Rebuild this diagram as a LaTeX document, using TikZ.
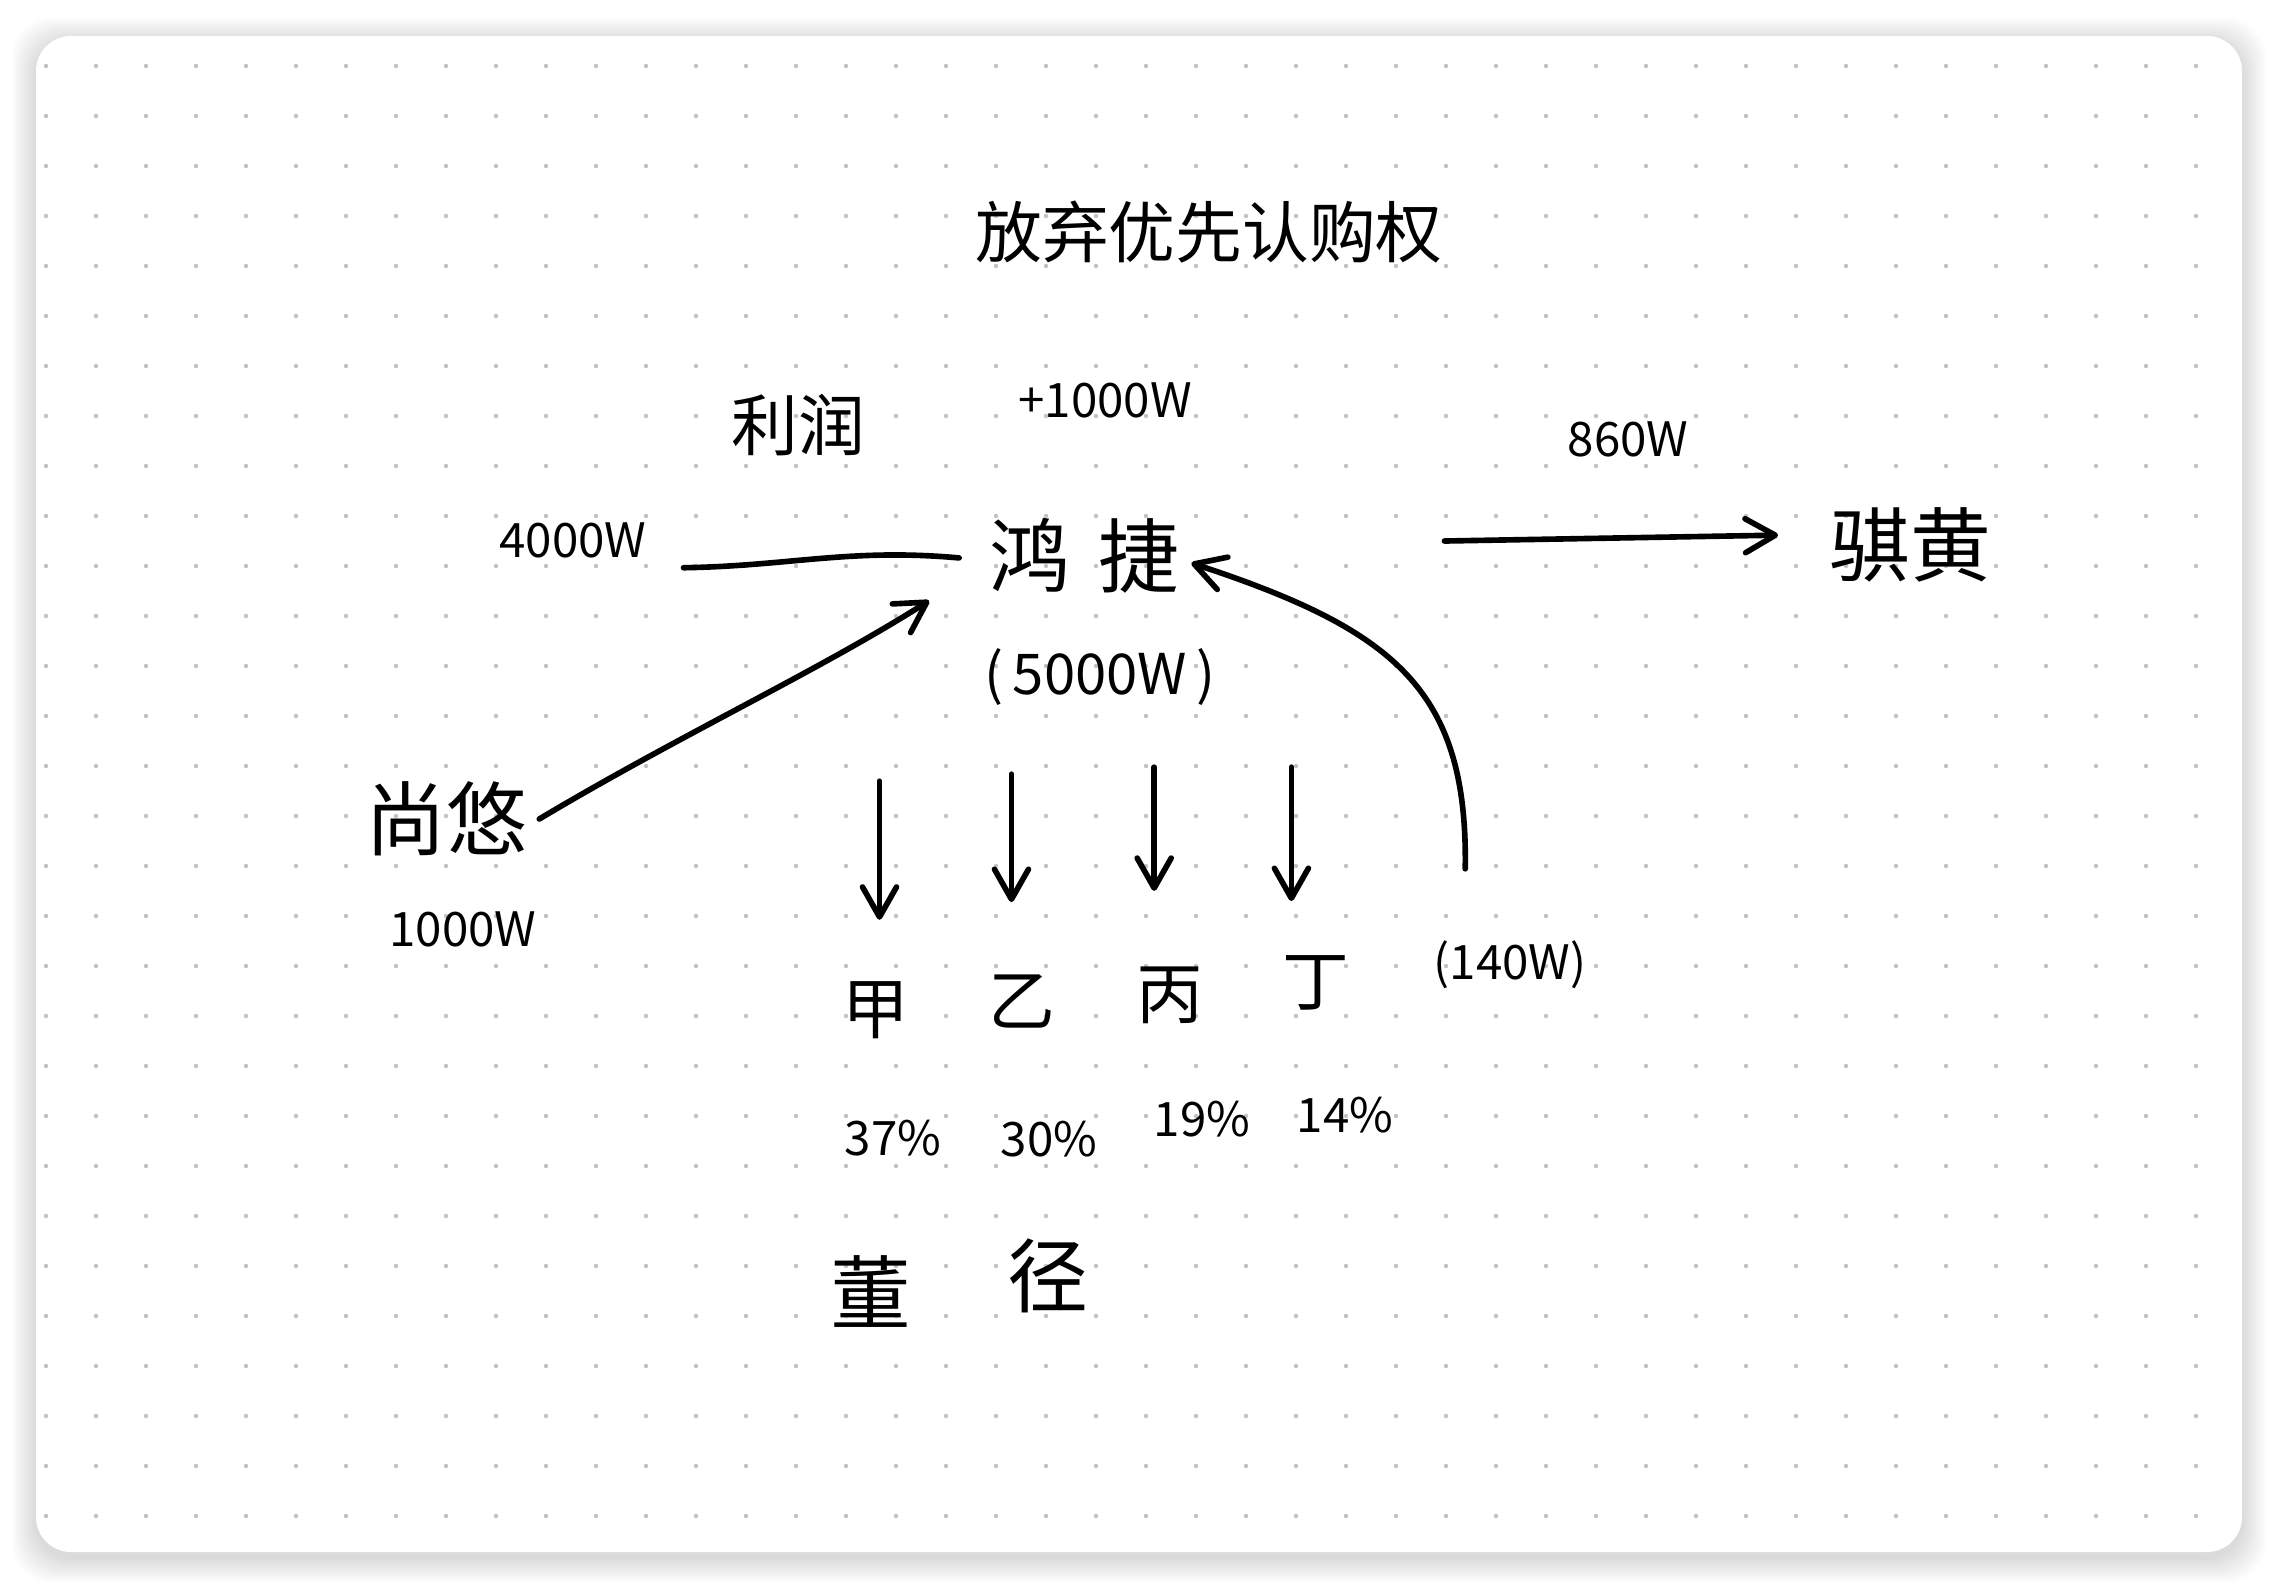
\documentclass[tikz,border=0pt]{standalone}
\usepackage{fontspec}
\setmainfont{Noto Sans CJK SC}
\usetikzlibrary{arrows.meta}

\definecolor{dotgray}{HTML}{C2C2C2}

\begin{document}
\begin{tikzpicture}[
        x=0.1mm, y=-0.1mm,
        pen/.style={line width=1.6pt, line cap=round, line join=round},
        arr/.style={pen, -{Straight Barb[length=3mm, width=3.4mm, round]}},
        big/.style={font=\fontsize{23}{25}\selectfont},
        mid/.style={font=\fontsize{19}{21}\selectfont},
        num/.style={font=\fontsize{13.5}{15}\selectfont},
        sum/.style={font=\fontsize{16}{18}\selectfont}
    ]
    \useasboundingbox (0,0) rectangle (2278,1588);
    \fill[white] (0,0) rectangle (2278,1588);

    % card with soft shadow
    \foreach \i in {1,...,12}
        \fill[black, opacity=0.013, rounded corners=4mm]
            ({36-2*\i},{42-2*\i}) rectangle ({2242+2*\i},{1558+2*\i});
    \fill[white, rounded corners=3.5mm] (36,36) rectangle (2242,1552);

    % dot grid
    \foreach \x in {46,96,...,2196}
        \foreach \y in {66,116,...,1516}
            \fill[dotgray] (\x,\y) circle[radius=0.22mm];

    \node[mid] (title) at (1209,232) {放弃优先认购权};

    \node[mid] (lirun) at (798,425) {利润};
    \node[num] (plus) at (1105,400) {+1000W};
    \node[num] (n4000) at (573,540) {4000W};
    \node[big] (hongjie) at (1084,556) {鸿\hspace{0.35em}捷};
    \node[sum] (total) at (1100,677) {(\,5000W\,)};

    \node[num] (n860) at (1628,439) {860W};
    \node[big] (qihuang) at (1910,545) {骐黄};

    \node[big] (shangyou) at (446,819) {尚悠};
    \node[num] (n1000) at (463,929) {1000W};

    \node[mid] (jia) at (876,1010) {甲};
    \node[mid] (yi) at (1022,1001) {乙};
    \node[mid] (bing) at (1170,995) {丙};
    \node[mid] (ding) at (1316,983) {丁};
    \node[num] (p140) at (1510,965) {(140W)};

    \node[num] (pjia) at (893,1138) {37\%};
    \node[num] (pyi) at (1049,1139) {30\%};
    \node[num] (pbing) at (1202,1119) {19\%};
    \node[num] (pding) at (1345,1115) {14\%};

    \node[big] (dong) at (871,1292) {董};
    \node[big] (jing) at (1048,1276) {径};

    \draw[pen, shorten <=7pt, shorten >=5pt] ([yshift=-8pt]n4000.east)
        .. controls (790,566) and (850,548) .. ([yshift=-1pt]hongjie.west);
    \draw[arr] (shangyou.east)
        .. controls (680,735) and (820,670) .. ([xshift=-13.5pt,yshift=1.5pt]hongjie.south west);
    \draw[arr, shorten <=72pt, shorten >=11pt] ([yshift=3pt]hongjie.east) -- ([yshift=3pt]qihuang.west);
    \draw[arr, shorten <=17pt] ([xshift=-13pt]p140.north)
        .. controls (1468,690) and (1395,630) .. ([yshift=-2pt]hongjie.east);

    \foreach \n/\dx/\s/\e in {jia/1pt/18pt/14pt, yi/-3pt/16pt/17pt, bing/-4.5pt/14pt/18pt, ding/-7pt/14pt/12pt}
        \draw[arr, shorten <=\s, shorten >=\e] ([xshift=\dx]\n.north |- total.south) -- ([xshift=\dx]\n.north);
\end{tikzpicture}
\end{document}
